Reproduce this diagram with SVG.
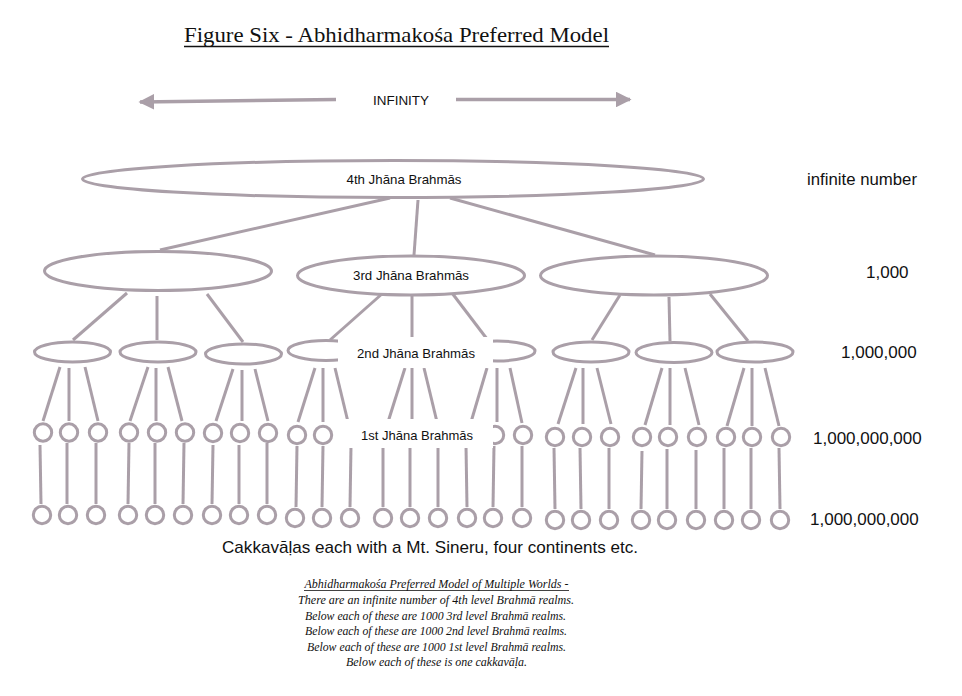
<svg xmlns="http://www.w3.org/2000/svg" width="962" height="696" viewBox="0 0 962 696">
<defs>
<style>
.s{fill:none;stroke:#aa9fa8;stroke-width:3}
.n{fill:#fff;stroke:#aa9fa8;stroke-width:3}
.c line{stroke:#aa9fa8;stroke-width:3;stroke-linecap:butt}
.t{font-family:"Liberation Sans",Arial,sans-serif;fill:#111}
.lb{font-size:13px;text-anchor:middle}
.num{font-size:17px}
.ser{font-family:"Liberation Serif","Times New Roman",serif;fill:#111}
.cap{font-size:12px;font-style:italic;text-anchor:middle}
</style>
<marker id="ah" viewBox="0 0 10 10" refX="9" refY="5" markerWidth="4.5" markerHeight="4.5" orient="auto-start-reverse" markerUnits="strokeWidth">
<path d="M0,0 L10,5 L0,10 Z" fill="#aa9fa8"/>
</marker>
</defs>
<rect width="962" height="696" fill="#fff"/>

<g id="title">
<text class="ser" x="184" y="42" font-size="21" textLength="425" lengthAdjust="spacingAndGlyphs">Figure Six - Abhidharmakośa Preferred Model</text>
<line x1="184" y1="46.5" x2="609" y2="46.5" stroke="#111" stroke-width="1.3"/>
</g>

<g id="infinity">
<line x1="336" y1="99.5" x2="140" y2="102" stroke="#aa9fa8" stroke-width="3.5" marker-end="url(#ah)"/>
<line x1="456" y1="99.5" x2="630" y2="99.5" stroke="#aa9fa8" stroke-width="3.5" marker-end="url(#ah)"/>
<text class="t" x="401" y="104.5" font-size="13" text-anchor="middle" textLength="56" lengthAdjust="spacingAndGlyphs">INFINITY</text>
</g>

<g id="connectors" class="c">
<!-- level 4 to level 3 -->
<line x1="390" y1="198" x2="160" y2="250"/>
<line x1="418" y1="200" x2="414" y2="255"/>
<line x1="450" y1="198" x2="655" y2="255"/>
<!-- level 3 to level 2 -->
<line x1="127" y1="293" x2="73" y2="340"/>
<line x1="157" y1="296" x2="157" y2="340"/>
<line x1="207" y1="294" x2="243" y2="342"/>
<line x1="383" y1="293" x2="330" y2="340"/>
<line x1="412" y1="296" x2="412" y2="340"/>
<line x1="452" y1="293" x2="487" y2="339"/>
<line x1="620" y1="295" x2="592" y2="340"/>
<line x1="669" y1="297" x2="670" y2="341"/>
<line x1="710" y1="294" x2="748" y2="341"/>
<!-- level 2 to level 1 -->
<line x1="60" y1="367" x2="43" y2="421"/>
<line x1="69" y1="368" x2="69" y2="421"/>
<line x1="85" y1="367" x2="98" y2="421"/>
<line x1="148" y1="367" x2="130" y2="421"/>
<line x1="156" y1="368" x2="156" y2="421"/>
<line x1="168" y1="367" x2="182" y2="421"/>
<line x1="233" y1="369" x2="216" y2="421"/>
<line x1="242" y1="370" x2="242" y2="421"/>
<line x1="255" y1="369" x2="268" y2="421"/>
<line x1="315" y1="368" x2="298" y2="422"/>
<line x1="323" y1="368" x2="323" y2="422"/>
<line x1="335" y1="368" x2="348" y2="422"/>
<line x1="405" y1="368" x2="388" y2="422"/>
<line x1="412" y1="368" x2="412" y2="422"/>
<line x1="424" y1="368" x2="437" y2="422"/>
<line x1="487" y1="368" x2="471" y2="422"/>
<line x1="497" y1="368" x2="497" y2="422"/>
<line x1="510" y1="368" x2="522" y2="423"/>
<line x1="576" y1="368" x2="558" y2="424"/>
<line x1="583" y1="368" x2="583" y2="424"/>
<line x1="597" y1="368" x2="611" y2="424"/>
<line x1="662" y1="368" x2="645" y2="425"/>
<line x1="670" y1="368" x2="670" y2="425"/>
<line x1="685" y1="368" x2="699" y2="425"/>
<line x1="744" y1="368" x2="727" y2="426"/>
<line x1="752" y1="368" x2="752" y2="426"/>
<line x1="765" y1="368" x2="779" y2="426"/>
<!-- level 1 to cakkavalas -->
<line x1="40" y1="445" x2="41" y2="504"/>
<line x1="67" y1="443" x2="67" y2="504"/>
<line x1="96" y1="443" x2="96" y2="504"/>
<line x1="129" y1="443" x2="128" y2="504"/>
<line x1="155" y1="443" x2="155" y2="504"/>
<line x1="184" y1="443" x2="183" y2="504"/>
<line x1="213" y1="445" x2="212" y2="504"/>
<line x1="239" y1="445" x2="239" y2="504"/>
<line x1="267" y1="443" x2="267" y2="504"/>
<line x1="297" y1="446" x2="296" y2="507"/>
<line x1="323" y1="446" x2="322" y2="507"/>
<line x1="351" y1="446" x2="350" y2="507"/>
<line x1="383" y1="446" x2="383" y2="507"/>
<line x1="410" y1="446" x2="410" y2="507"/>
<line x1="438" y1="446" x2="438" y2="507"/>
<line x1="466" y1="446" x2="467" y2="507"/>
<line x1="494" y1="446" x2="493" y2="507"/>
<line x1="522" y1="446" x2="522" y2="507"/>
<line x1="554" y1="448" x2="555" y2="509"/>
<line x1="580" y1="448" x2="581" y2="509"/>
<line x1="609" y1="448" x2="609" y2="509"/>
<line x1="642" y1="451" x2="641" y2="509"/>
<line x1="667" y1="449" x2="667" y2="509"/>
<line x1="696" y1="450" x2="696" y2="509"/>
<line x1="724" y1="448" x2="724" y2="509"/>
<line x1="751" y1="448" x2="751" y2="509"/>
<line x1="779" y1="448" x2="780" y2="509"/>
</g>

<g id="level4">
<ellipse class="n" cx="393" cy="179" rx="310.5" ry="18.5"/>
<text class="t lb" x="404" y="183.5" textLength="115" lengthAdjust="spacingAndGlyphs">4th Jhāna Brahmās</text>
</g>

<g id="level3">
<ellipse class="n" cx="158" cy="271" rx="113.5" ry="19.5"/>
<ellipse class="n" cx="411" cy="275.5" rx="113.5" ry="19.5"/>
<ellipse class="n" cx="654" cy="275.5" rx="113.5" ry="19.5"/>
<text class="t lb" x="411" y="280" textLength="116" lengthAdjust="spacingAndGlyphs">3rd Jhāna Brahmās</text>
</g>

<g id="level2">
<ellipse class="n" cx="72.5" cy="352" rx="38" ry="10"/>
<ellipse class="n" cx="158" cy="352" rx="38" ry="10"/>
<ellipse class="n" cx="243.5" cy="354" rx="38" ry="10"/>
<ellipse class="n" cx="326" cy="350.5" rx="38" ry="10"/>
<ellipse class="n" cx="497" cy="351" rx="38" ry="10"/>
<ellipse class="n" cx="591" cy="352" rx="38" ry="10"/>
<ellipse class="n" cx="674" cy="352.5" rx="38" ry="10"/>
<ellipse class="n" cx="755" cy="352" rx="38" ry="10"/>
</g>
<g id="label-2nd">
<rect x="338" y="337" width="155" height="31" fill="#fff"/>
<text class="t lb" x="416" y="358" textLength="118" lengthAdjust="spacingAndGlyphs">2nd Jhāna Brahmās</text>
</g>

<g id="level1">
<circle class="n" cx="43" cy="432.5" r="8.7"/>
<circle class="n" cx="69" cy="432.5" r="8.7"/>
<circle class="n" cx="98" cy="432.5" r="8.7"/>
<circle class="n" cx="129" cy="432.5" r="8.7"/>
<circle class="n" cx="157" cy="432.5" r="8.7"/>
<circle class="n" cx="185" cy="432.5" r="8.7"/>
<circle class="n" cx="213" cy="433" r="8.7"/>
<circle class="n" cx="240" cy="433" r="8.7"/>
<circle class="n" cx="268" cy="433" r="8.7"/>
<circle class="n" cx="297" cy="435" r="8.7"/>
<circle class="n" cx="323" cy="435" r="8.7"/>
<circle class="n" cx="495" cy="435" r="8.7"/>
<circle class="n" cx="523" cy="435" r="8.7"/>
<circle class="n" cx="555" cy="437" r="8.7"/>
<circle class="n" cx="582" cy="437" r="8.7"/>
<circle class="n" cx="610" cy="437" r="8.7"/>
<circle class="n" cx="642" cy="437" r="8.7"/>
<circle class="n" cx="668" cy="437" r="8.7"/>
<circle class="n" cx="697" cy="437" r="8.7"/>
<circle class="n" cx="726" cy="437" r="8.7"/>
<circle class="n" cx="752" cy="437" r="8.7"/>
<circle class="n" cx="781" cy="437" r="8.7"/>
</g>
<g id="label-1st">
<rect x="335" y="419" width="158" height="29" fill="#fff"/>
<text class="t lb" x="417" y="440" textLength="112" lengthAdjust="spacingAndGlyphs">1st Jhāna Brahmās</text>
</g>

<g id="cakkavalas">
<circle class="n" cx="42" cy="515" r="8.7"/>
<circle class="n" cx="68" cy="515" r="8.7"/>
<circle class="n" cx="96" cy="515" r="8.7"/>
<circle class="n" cx="128" cy="515" r="8.7"/>
<circle class="n" cx="155" cy="515" r="8.7"/>
<circle class="n" cx="183" cy="515" r="8.7"/>
<circle class="n" cx="212" cy="515" r="8.7"/>
<circle class="n" cx="239" cy="515" r="8.7"/>
<circle class="n" cx="267" cy="515" r="8.7"/>
<circle class="n" cx="295" cy="518" r="8.7"/>
<circle class="n" cx="322" cy="518" r="8.7"/>
<circle class="n" cx="350" cy="518" r="8.7"/>
<circle class="n" cx="383" cy="518" r="8.7"/>
<circle class="n" cx="410" cy="518" r="8.7"/>
<circle class="n" cx="438" cy="518" r="8.7"/>
<circle class="n" cx="467" cy="518" r="8.7"/>
<circle class="n" cx="493" cy="518" r="8.7"/>
<circle class="n" cx="522" cy="518" r="8.7"/>
<circle class="n" cx="555" cy="520" r="8.7"/>
<circle class="n" cx="581" cy="520" r="8.7"/>
<circle class="n" cx="609" cy="520" r="8.7"/>
<circle class="n" cx="641" cy="520" r="8.7"/>
<circle class="n" cx="667" cy="520" r="8.7"/>
<circle class="n" cx="696" cy="520" r="8.7"/>
<circle class="n" cx="724" cy="520" r="8.7"/>
<circle class="n" cx="751" cy="520" r="8.7"/>
<circle class="n" cx="780" cy="520" r="8.7"/>
</g>

<g id="counts" class="t num">
<text x="807" y="185" textLength="110" lengthAdjust="spacingAndGlyphs">infinite number</text>
<text x="866" y="277.5">1,000</text>
<text x="841" y="358">1,000,000</text>
<text x="813" y="444">1,000,000,000</text>
<text x="810" y="525">1,000,000,000</text>
</g>

<g id="cakkavala-label">
<text class="t" x="222" y="553" font-size="17" textLength="416" lengthAdjust="spacingAndGlyphs">Cakkavāḷas each with a Mt. Sineru, four continents etc.</text>
</g>

<g id="caption" class="ser cap">
<text x="436.5" y="588" textLength="264" lengthAdjust="spacingAndGlyphs">Abhidharmakośa Preferred Model of Multiple Worlds -</text>
<line x1="304" y1="590.5" x2="569" y2="590.5" stroke="#111" stroke-width="0.8"/>
<text x="436" y="604" textLength="276" lengthAdjust="spacingAndGlyphs">There are an infinite number of 4th level Brahmā realms.</text>
<text x="435.5" y="619.5" textLength="261" lengthAdjust="spacingAndGlyphs">Below each of these are 1000 3rd level Brahmā realms.</text>
<text x="436" y="635" textLength="262" lengthAdjust="spacingAndGlyphs">Below each of these are 1000 2nd level Brahmā realms.</text>
<text x="436.5" y="650.5" textLength="259" lengthAdjust="spacingAndGlyphs">Below each of these are 1000 1st level Brahmā realms.</text>
<text x="436.5" y="666" textLength="181" lengthAdjust="spacingAndGlyphs">Below each of these is one cakkavāḷa.</text>
</g>
</svg>
